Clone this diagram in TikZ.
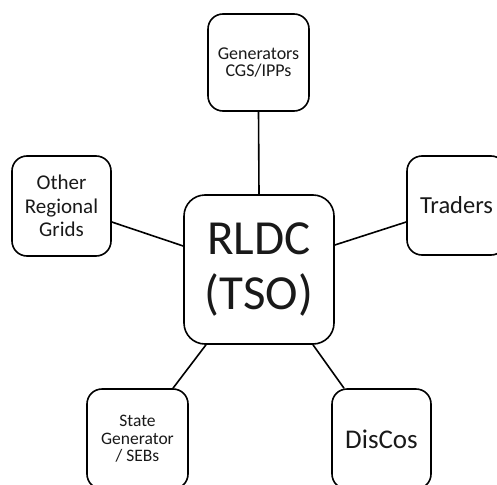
\documentclass[tikz,border=0pt]{standalone}
\usepackage{fontspec}
\setmainfont{Carlito}
\usetikzlibrary{calc}
\begin{document}
\begin{tikzpicture}[x=1pt,y=-1pt,
  box/.style={draw=black, line width=1.6pt, rounded corners=15pt, align=center, inner sep=0pt, text=black!90},
  link/.style={draw=black, line width=1.6pt}]
\useasboundingbox (0,0) rectangle (497,484);
\clip (0,0) rectangle (497,484);
\node[box, minimum width=101pt, minimum height=97pt, font=\fontsize{18}{17}\selectfont] (gen) at (258.5,62.5) {Generators\\CGS/IPPs};
\node[box, minimum width=99pt, minimum height=100pt, font=\fontsize{21}{23.5}\selectfont] (other) at (61.5,206) {Other\\Regional\\Grids};
\node[box, rounded corners=21pt, minimum width=150pt, minimum height=149pt, font=\fontsize{49}{55}\selectfont] (rldc) at (259,269.5) {RLDC\\(TSO)};
\node[box, minimum width=99pt, minimum height=99pt, font=\fontsize{24.5}{28}\selectfont] (traders) at (456.5,205.5) {Traders};
\node[box, minimum width=101pt, minimum height=100pt, font=\fontsize{17.5}{17.5}\selectfont] (state) at (137.5,439) {State\\Generator\\/ SEBs};
\node[box, minimum width=99pt, minimum height=100pt, font=\fontsize{27}{30}\selectfont] (discos) at (381.5,439) {DisCos};
\draw[link] (gen.south) -- (rldc.north);
\draw[link] ($(other.east)+(0,16)$) -- ($(rldc.west)+(0,-23.5)$);
\draw[link] ($(traders.west)+(0,16.5)$) -- ($(rldc.east)+(0,-24.5)$);
\draw[link] ($(state.north)+(35.5,0)$) -- ($(rldc.south)+(-53,0)$);
\draw[link] ($(discos.north)+(-37.5,0)$) -- ($(rldc.south)+(54,0)$);
\end{tikzpicture}
\end{document}
